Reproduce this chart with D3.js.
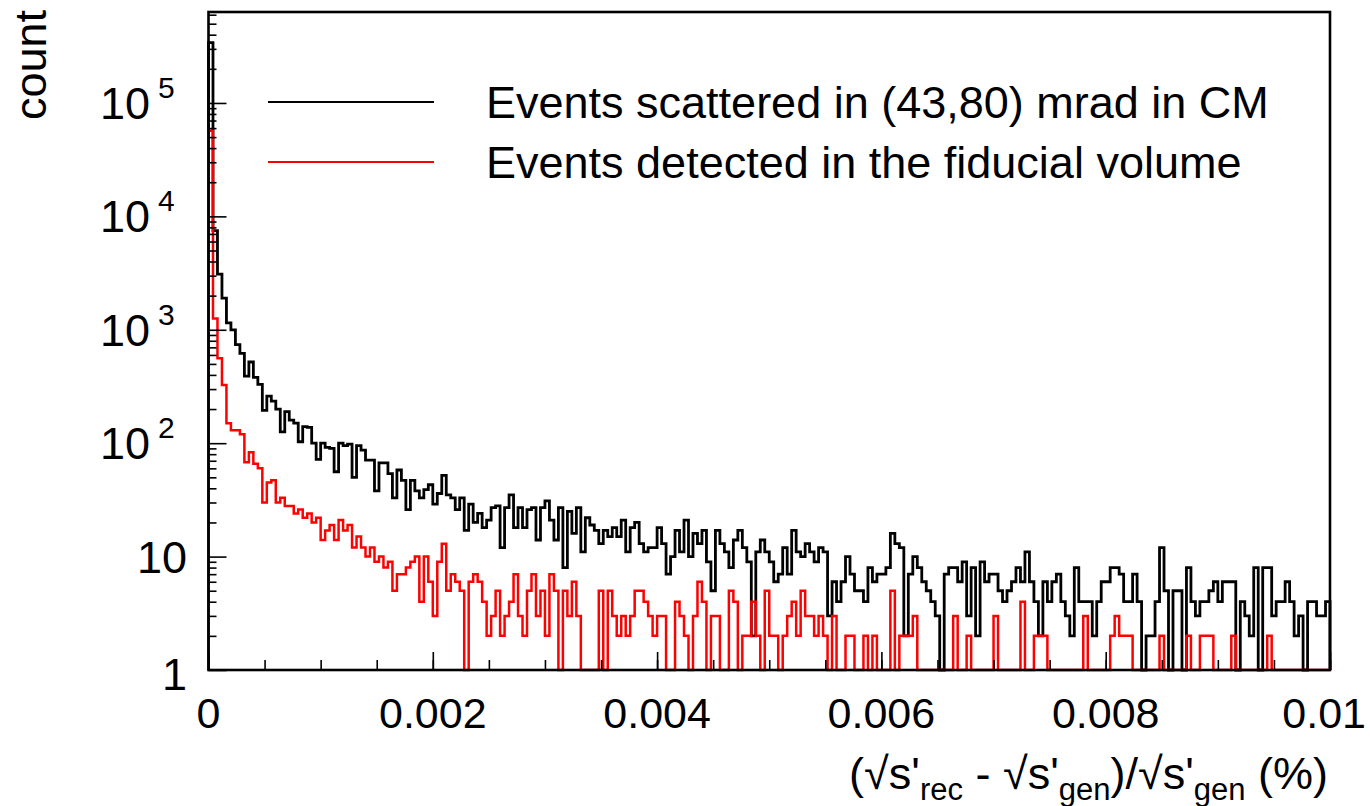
<!DOCTYPE html>
<html>
<head>
<meta charset="utf-8">
<script src="https://cdn.jsdelivr.net/npm/d3@7"></script>
<style>
  html, body { margin: 0; padding: 0; background: #fff; }
  svg { display: block; }
  text { font-family: "Liberation Sans", Arial, Helvetica, sans-serif; fill: #000; }
</style>
</head>
<body>
<svg id="chart" width="1370" height="806"></svg>
<script>
// ---------------- data ----------------
const xMin = 0, xMax = 0.01, nBins = 250;

const blackCounts = [
 340000, 7500, 3100, 1900, 1150, 1000, 740, 620, 390, 520,
 380, 330, 195, 260, 235, 200, 126, 190, 160, 150,
 103, 140, 138, 100, 72, 100, 92, 90, 56, 100,
 95, 98, 50, 95, 87, 71, 71, 38, 67, 67,
 54, 33, 58, 47, 26, 47, 38, 33, 39, 43,
 29, 36, 52, 35, 33, 26, 33, 17, 29, 20,
 24, 18, 21, 27, 28, 12, 27, 35, 18, 27,
 18, 26, 27, 14, 27, 31, 21, 14, 27, 8,
 25, 16, 27, 11, 22, 19, 17, 13, 17, 15,
 18, 15, 21, 11, 18, 20, 13, 11, 12, 12,
 18, 13, 7, 10, 17, 11, 21, 10, 16, 13,
 17, 9, 5, 17, 13, 11, 8, 14, 17, 12,
 9, 2, 11, 14, 11, 9, 6, 7, 12, 7,
 17, 11, 10, 13, 11, 9, 12, 11, 3, 6,
 4, 6, 10, 7, 5, 5, 4, 8, 6, 7,
 7, 8, 16, 13, 12, 2, 7, 10, 8, 6,
 5, 4, 3, 1, 7, 8, 8, 6, 9, 3,
 8, 2, 9, 6, 7, 7, 5, 4, 5, 6,
 8, 6, 11, 6, 4, 2, 6, 4, 6, 7,
 4, 3, 2, 8, 4, 4, 4, 2, 4, 6,
 6, 8, 8, 7, 4, 4, 7, 4, 1, 2,
 2, 4, 12, 5, 1, 5, 5, 1, 8, 4,
 3, 4, 4, 5, 6, 4, 6, 6, 6, 1,
 4, 3, 2, 8, 1, 8, 8, 3, 4, 4,
 6, 4, 2, 3, 1, 4, 4, 3, 3, 4
];

const redCounts = [
 57000, 1260, 560, 326, 150, 130, 130, 120, 68, 83,
 66, 60, 30, 45, 47, 30, 33, 28, 28, 24,
 26, 22, 24, 20, 22, 14, 17, 19, 14, 21,
 17, 19, 12, 15, 12, 10, 12, 9, 10, 8,
 9, 5, 7, 7, 8, 9, 10, 4, 10, 6,
 3, 9, 13, 5, 7, 6, 5, 0, 6, 7,
 6, 4, 2, 3, 5, 2, 3, 4, 7, 3,
 2, 5, 7, 3, 5, 2, 7, 5, 0, 5,
 3, 6, 3, 0, 0, 0, 0, 5, 0, 5,
 3, 2, 3, 2, 3, 5, 5, 4, 3, 2,
 3, 3, 0, 0, 4, 3, 2, 0, 3, 6,
 4, 0, 3, 3, 0, 0, 5, 4, 0, 2,
 2, 4, 2, 0, 5, 2, 2, 0, 2, 3,
 4, 2, 5, 3, 3, 2, 3, 2, 0, 3,
 0, 0, 2, 2, 0, 0, 2, 0, 2, 0,
 0, 0, 5, 0, 2, 2, 2, 3, 0, 0,
 0, 0, 0, 0, 0, 0, 3, 0, 0, 2,
 0, 0, 0, 0, 0, 3, 0, 0, 0, 0,
 0, 4, 0, 0, 2, 2, 2, 0, 0, 0,
 0, 0, 0, 0, 0, 3, 0, 0, 0, 0,
 0, 2, 3, 2, 2, 2, 0, 0, 0, 0,
 0, 0, 2, 0, 0, 0, 0, 0, 2, 0,
 0, 2, 2, 2, 0, 0, 0, 0, 2, 0,
 0, 0, 0, 0, 0, 0, 2, 0, 0, 0,
 0, 0, 0, 0, 0, 0, 0, 0, 0, 0
];

const xTickValues = [0, 0.002, 0.004, 0.006, 0.008, 0.01];
const xTickLabels = ["0", "0.002", "0.004", "0.006", "0.008", "0.01"];
const yDecades = [1, 10, 100, 1000, 10000, 100000];
const yExponents = ["", "", "2", "3", "4", "5"];
const yBaseLabels = ["1", "10", "10", "10", "10", "10"];
const legendLabels = ["Events scattered in (43,80) mrad in CM", "Events detected in the fiducial volume"];
const seriesColors = ["#000000", "#ff0000"];

// ---------------- layout ----------------
const pLeft = 208.5, pRight = 1330, pTop = 12, pBottom = 670;
const svg = d3.select("#chart");

const x = d3.scaleLinear().domain([xMin, xMax]).range([pLeft, pRight]);
const y = d3.scaleLog().domain([1, 634000]).range([pBottom, pTop]).clamp(true);

const binW = (xMax - xMin) / nBins;

function histPoints(counts) {
  const pts = [[xMin, 0]];
  counts.forEach((c, i) => pts.push([xMin + i * binW, c]));
  pts.push([xMax, counts[counts.length - 1]]);
  pts.push([xMax, 0]);
  return pts;
}
const line = d3.line()
  .x(d => x(d[0]))
  .y(d => y(Math.max(d[1], 1)))
  .curve(d3.curveStepAfter);

const plot = svg.append("g");
plot.append("path").datum(histPoints(blackCounts))
  .attr("d", line).attr("fill", "none")
  .attr("stroke", seriesColors[0]).attr("stroke-width", 2.8)
  .attr("stroke-linejoin", "miter");
plot.append("path").datum(histPoints(redCounts))
  .attr("d", line).attr("fill", "none")
  .attr("stroke", seriesColors[1]).attr("stroke-width", 2.5)
  .attr("stroke-linejoin", "miter");

// ---------------- axes ----------------
const yMinor = [];
for (let d = 1; d <= 100000; d *= 10) for (let k = 2; k <= 9; k++) if (d * k < 634000) yMinor.push(d * k);
const yMinorAxis = d3.axisRight(y).tickValues(yMinor).tickSize(8).tickFormat("");
svg.append("g").attr("transform", `translate(${pLeft},0)`).call(yMinorAxis)
  .call(g => g.select(".domain").remove())
  .selectAll("line").attr("stroke", "#000").attr("stroke-width", 1.6);
const yMajorAxis = d3.axisRight(y).tickValues(yDecades).tickSize(18).tickFormat("");
svg.append("g").attr("transform", `translate(${pLeft},0)`).call(yMajorAxis)
  .call(g => g.select(".domain").remove())
  .selectAll("line").attr("stroke", "#000").attr("stroke-width", 1.6);

const xMinor = d3.range(0, 21).map(i => i * 0.0005);
const xMinorAxis = d3.axisTop(x).tickValues(xMinor).tickSize(10).tickFormat("");
svg.append("g").attr("transform", `translate(0,${pBottom})`).call(xMinorAxis)
  .call(g => g.select(".domain").remove())
  .selectAll("line").attr("stroke", "#000").attr("stroke-width", 1.6);
const xMajorAxis = d3.axisTop(x).tickValues(xTickValues).tickSize(18).tickFormat("");
svg.append("g").attr("transform", `translate(0,${pBottom})`).call(xMajorAxis)
  .call(g => g.select(".domain").remove())
  .selectAll("line").attr("stroke", "#000").attr("stroke-width", 1.6);

svg.append("rect").attr("x", pLeft).attr("y", pTop)
  .attr("width", pRight - pLeft).attr("height", pBottom - pTop)
  .attr("fill", "none").attr("stroke", "#000").attr("stroke-width", 2.6);

// X tick labels (last one kept inside the page)
svg.append("g").selectAll("text").data(xTickValues).join("text")
  .attr("x", (d, i) => i === xTickValues.length - 1 ? 1366 : x(d)).attr("y", 728)
  .attr("text-anchor", (d, i) => i === xTickValues.length - 1 ? "end" : "middle")
  .attr("font-size", 43)
  .text((d, i) => xTickLabels[i]);

const yl = svg.append("g");
yDecades.forEach((d, i) => {
  const yy = y(d);
  if (yExponents[i] === "") {
    yl.append("text").attr("x", 187).attr("y", i === 0 ? yy + 20 : yy + 16)
      .attr("text-anchor", "end").attr("font-size", 45).text(yBaseLabels[i]);
  } else {
    yl.append("text").attr("x", 150).attr("y", yy + 16)
      .attr("text-anchor", "end").attr("font-size", 45).text(yBaseLabels[i]);
    yl.append("text").attr("x", 158).attr("y", yy - 5)
      .attr("text-anchor", "start").attr("font-size", 30).text(yExponents[i]);
  }
});

svg.append("text").attr("transform", "translate(46,10) rotate(-90)")
  .attr("text-anchor", "end").attr("font-size", 45).text("count");

const xt = svg.append("text").attr("x", 1328).attr("y", 789)
  .attr("text-anchor", "end").attr("font-size", 45);
const parts = [
  ["(\u221As'", 0], ["rec", 1], [" - \u221As'", 0], ["gen", 1],
  [")/\u221As'", 0], ["gen", 1], [" (%)", 0]
];
let sub = false;
parts.forEach(([t, s]) => {
  const ts = xt.append("tspan").text(t);
  if (s === 1) { ts.attr("font-size", 31).attr("dy", sub ? 0 : 11); sub = true; }
  else { ts.attr("dy", sub ? -11 : 0); sub = false; }
});

const leg = svg.append("g");
[102, 162].forEach((ly, i) => {
  leg.append("line").attr("x1", 268).attr("x2", 434).attr("y1", ly).attr("y2", ly)
    .attr("stroke", seriesColors[i]).attr("stroke-width", 2.2);
  leg.append("text").attr("x", 486).attr("y", ly + 16).attr("font-size", 45)
    .text(legendLabels[i]);
});
</script>
</body>
</html>
